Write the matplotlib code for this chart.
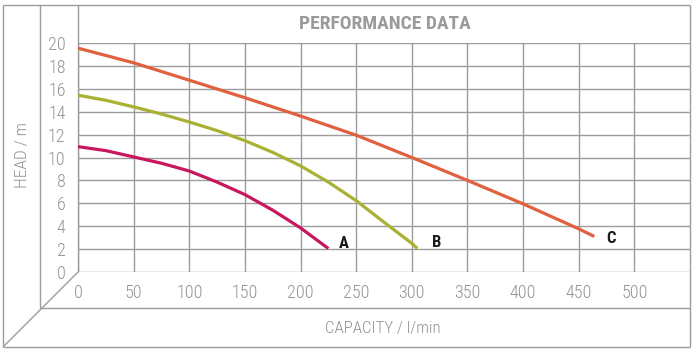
import matplotlib
matplotlib.use("Agg")
import matplotlib.pyplot as plt
from matplotlib import font_manager

# pick a condensed sans if one is installed
fl = font_manager.fontManager.ttflist
names = {f.name for f in fl}
FONT, STRETCH, SCALE = "DejaVu Sans", "normal", 0.85
for cand in ["Roboto Condensed", "Liberation Sans Narrow", "Open Sans Condensed"]:
    if cand in names:
        FONT, STRETCH, SCALE = cand, "normal", 1.0
        break
else:
    if any(f.name == "DejaVu Sans" and str(f.stretch) in ("condensed", "semi-condensed")
           for f in fl):
        FONT, STRETCH, SCALE = "DejaVu Sans", "condensed", 0.95
plt.rcParams['font.family'] = [FONT, 'DejaVu Sans']
plt.rcParams['font.stretch'] = STRETCH

# ---- data ----
a_x = [0, 25, 50, 75, 100, 125, 150, 175, 200, 225]
a_y = [10.95, 10.6, 10.05, 9.5, 8.82, 7.85, 6.76, 5.4, 3.85, 2.05]
b_x = [0, 25, 50, 75, 100, 125, 150, 175, 200, 225, 250, 275, 300, 305]
b_y = [15.44, 15.0, 14.42, 13.8, 13.1, 12.35, 11.47, 10.45, 9.27, 7.85, 6.23, 4.35, 2.5, 2.05]
c_x = [0, 50, 100, 150, 200, 250, 300, 350, 400, 450, 464]
c_y = [19.55, 18.27, 16.75, 15.22, 13.62, 11.95, 10.0, 8.0, 5.95, 3.77, 3.1]
labels = ["A", "B", "C"]
label_pos = [(234, 2.5), (318, 2.6), (475, 2.95)]
x_ticks = [0, 50, 100, 150, 200, 250, 300, 350, 400, 450, 500]
y_ticks = [0, 2, 4, 6, 8, 10, 12, 14, 16, 18, 20]

W, H = 696, 351
fig = plt.figure(figsize=(W / 100, H / 100), dpi=100)
GRID = "#9c9c9c"
TXT = "#939393"

# overlay for the pseudo-3D frame (pixel coordinates)
ov = fig.add_axes([0, 0, 1, 1], zorder=0)
ov.set_xlim(0, W)
ov.set_ylim(H, 0)
ov.axis("off")
frame = [
    ((3, 5), (690, 5)), ((690, 5), (690, 347)), ((3, 347), (690, 347)),
    ((3, 5), (3, 347)), ((40, 5), (40, 308)), ((40, 308), (690, 308)),
    ((78, 5), (78, 272)), ((3, 347), (78, 272)),
]
for (x0, y0), (x1, y1) in frame:
    ov.plot([x0, x1], [y0, y1], color=GRID, lw=1.0, solid_capstyle="butt")

ax = fig.add_axes([78 / W, (H - 272) / H, (690 - 78) / W, (272 - 43) / H], zorder=1)
ax.patch.set_alpha(0)
ax.set_xlim(0, 550)
ax.set_ylim(0, 20)
ax.set_xticks(x_ticks)
ax.set_yticks(y_ticks)
for s in ax.spines.values():
    s.set_visible(False)
ax.grid(True, color=GRID, lw=1.0)
ax.tick_params(length=0, colors=TXT, labelsize=13 * SCALE)
ax.tick_params(axis="y", pad=9)
ax.tick_params(axis="x", pad=9)
for t in ax.get_xticklabels() + ax.get_yticklabels():
    t.set_fontweight("light")

ax.plot(c_x, c_y, color="#E0603F", lw=2.3, solid_capstyle="butt", solid_joinstyle="round")
ax.plot(b_x, b_y, color="#A9B133", lw=2.3, solid_capstyle="butt", solid_joinstyle="round")
ax.plot(a_x, a_y, color="#C8175E", lw=2.3, solid_capstyle="butt", solid_joinstyle="round")

for lab, (lx, ly) in zip(labels, label_pos):
    ax.text(lx, ly, lab, fontsize=12 * SCALE, fontweight="bold", color="#1a1a1a",
            ha="left", va="center")

ov.text(385, 24, "PERFORMANCE DATA", fontsize=14 * SCALE, fontweight="bold",
        color="#9a9a9a", ha="center", va="center")
ov.text(383, 328, "CAPACITY / l/min", fontsize=12.2 * SCALE, color=TXT,
        fontweight="light", ha="center", va="center")
ov.text(22, 155, "HEAD / m", fontsize=12.5 * SCALE, color=TXT, rotation=90,
        fontweight="light", ha="center", va="center")

fig.savefig("out.png", dpi=100)
